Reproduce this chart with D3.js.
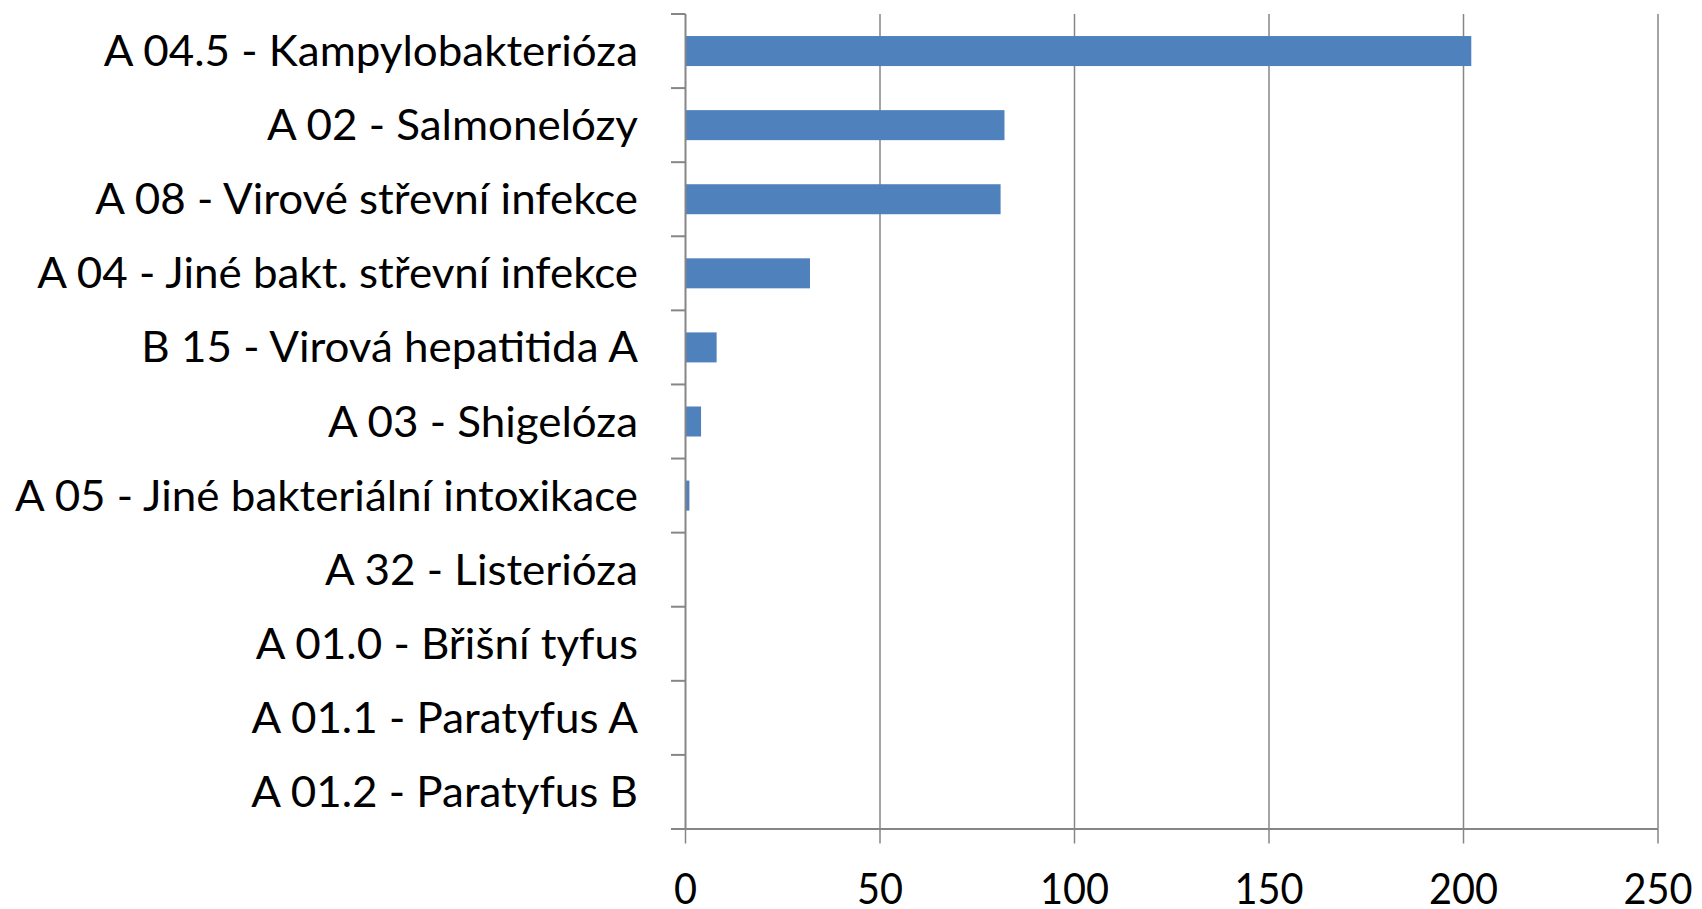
<!DOCTYPE html>
<html>
<head>
<meta charset="utf-8">
<script src="https://cdn.jsdelivr.net/npm/d3@7"></script>
<style>
  html, body { margin: 0; padding: 0; background: #fff; }
  svg { display: block; }
  text { font-family: Lato, "Open Sans", sans-serif; fill: #000; }
</style>
</head>
<body>
<svg id="chart" width="1702" height="909"></svg>
<script>
const categories = [
  "A 04.5 - Kampylobakterióza",
  "A 02 - Salmonelózy",
  "A 08 - Virové střevní infekce",
  "A 04 - Jiné bakt. střevní infekce",
  "B 15 - Virová hepatitida A",
  "A 03 - Shigelóza",
  "A 05 - Jiné bakteriální intoxikace",
  "A 32 - Listerióza",
  "A 01.0 - Břišní tyfus",
  "A 01.1 - Paratyfus A",
  "A 01.2 - Paratyfus B"
];
const values = [202, 82, 81, 32, 8, 4, 1, 0, 0, 0, 0];
const xTicks = [0, 50, 100, 150, 200, 250];

(function () {
const svg = d3.select("#chart");
const pLeft = 685.5, pRight = 1658, pTop = 14, pBottom = 829;
const axisColor = "#868686";

const x = d3.scaleLinear().domain([0, 250]).range([pLeft, pRight]);
const y = d3.scaleBand().domain(categories).range([pTop, pBottom])
  .paddingInner(0.595).paddingOuter(0.2975);
const step = y.step();

// gridlines
svg.append("g").selectAll("line").data(xTicks.filter(d => d > 0)).join("line")
  .attr("x1", d => x(d)).attr("x2", d => x(d))
  .attr("y1", pTop).attr("y2", pBottom)
  .attr("stroke", axisColor).attr("stroke-width", 1.5);

// bars
svg.append("g").selectAll("rect").data(categories).join("rect")
  .attr("x", x(0))
  .attr("y", d => y(d))
  .attr("width", (d, i) => Math.max(0, x(values[i]) - x(0)))
  .attr("height", y.bandwidth())
  .attr("fill", "#4F81BD");

// y axis line + ticks
svg.append("line").attr("x1", pLeft).attr("x2", pLeft).attr("y1", pTop).attr("y2", pBottom)
  .attr("stroke", axisColor).attr("stroke-width", 2);
const yTickPos = d3.range(categories.length + 1).map(i => pTop + i * step);
svg.append("g").selectAll("line").data(yTickPos).join("line")
  .attr("x1", pLeft - 14.5).attr("x2", pLeft)
  .attr("y1", d => d).attr("y2", d => d)
  .attr("stroke", axisColor).attr("stroke-width", 2);

// x axis line + ticks
svg.append("line").attr("x1", pLeft - 14.5).attr("x2", pRight).attr("y1", pBottom).attr("y2", pBottom)
  .attr("stroke", axisColor).attr("stroke-width", 2);
svg.append("g").selectAll("line").data(xTicks).join("line")
  .attr("x1", d => x(d)).attr("x2", d => x(d))
  .attr("y1", pBottom).attr("y2", pBottom + 14.5)
  .attr("stroke", axisColor).attr("stroke-width", 1.5);

// x tick labels
const xl = svg.append("g").selectAll("text").data(xTicks).join("text")
  .attr("font-size", 42)
  .attr("text-anchor", "middle")
  .text(d => d);
let w250 = 0;
xl.each(function(d) { if (d === 250) w250 = this.getComputedTextLength(); });
const sx = w250 > 0 ? 69 / w250 : 1;
xl.attr("transform", d => `translate(${x(d)},904) scale(${sx},1)`);

// category labels
const cl = svg.append("g").selectAll("text").data(categories).join("text")
  .attr("font-size", 42)
  .attr("text-anchor", "end")
  .text(d => d);
let wMax = 0;
cl.each(function() { wMax = Math.max(wMax, this.getComputedTextLength()); });
const sc = wMax > 0 ? 623 / wMax : 1;
cl.attr("transform", d => `translate(638,${y(d) + y.bandwidth() / 2 + 15}) scale(${sc},1)`);
})();
</script>
</body>
</html>
